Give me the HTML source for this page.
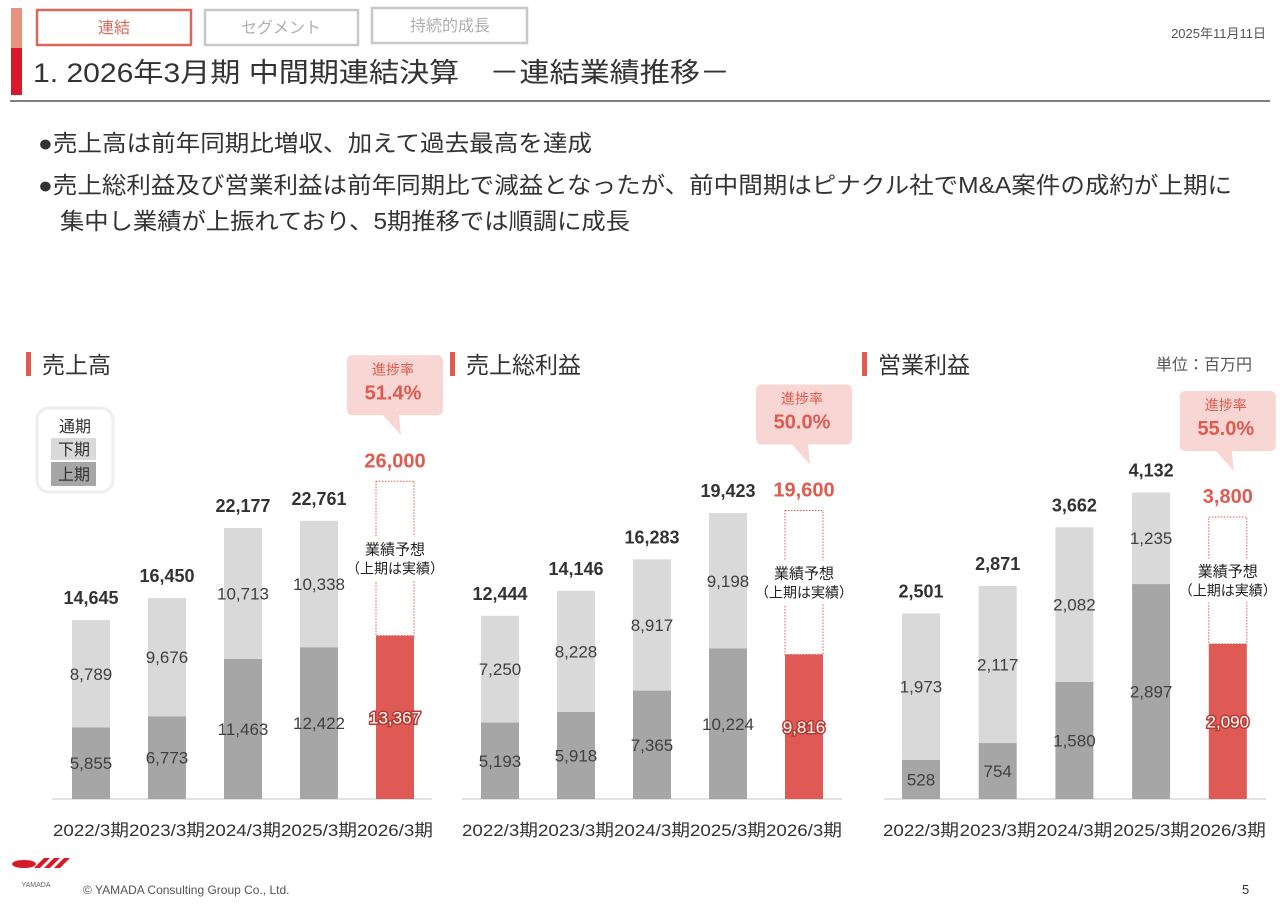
<!DOCTYPE html>
<html><head><meta charset="utf-8">
<style>
html,body{margin:0;padding:0;background:#fff;}
body{width:1280px;height:904px;overflow:hidden;font-family:"Liberation Sans","Noto Sans CJK JP",sans-serif;}
</style></head>
<body>
<svg id="s" width="1280" height="904" xmlns="http://www.w3.org/2000/svg" font-family="'Liberation Sans','Noto Sans CJK JP',sans-serif">
  <rect x="11" y="8" width="11" height="40" fill="#e8937f"/>
  <rect x="11" y="48" width="11" height="47" fill="#d9182a"/>
  <g><rect x="37" y="10" width="154" height="35" fill="#fff" stroke="#d9675a" stroke-width="2.5"/><text x="114" y="33" font-size="16" fill="#d9675a" text-anchor="middle">連結</text></g>
  <g><rect x="205" y="10" width="153" height="35" fill="#fff" stroke="#c8c8c8" stroke-width="2.5"/><text x="281" y="33" font-size="16" fill="#b0b0b0" text-anchor="middle">セグメント</text></g>
  <g><rect x="372" y="8" width="155" height="35" fill="#fff" stroke="#c8c8c8" stroke-width="2.5"/><text x="450" y="31" font-size="16" fill="#b0b0b0" text-anchor="middle">持続的成長</text></g>
  <text x="1266" y="38" font-size="13" fill="#555" text-anchor="end">2025年11月11日</text>
  <text x="33" y="82" font-size="27" fill="#333" textLength="697" lengthAdjust="spacingAndGlyphs">1. 2026年3月期 中間期連結決算　－連結業績推移－</text>
  <line x1="10" y1="101" x2="1270" y2="101" stroke="#555" stroke-width="1.5"/>
  <g font-size="23" fill="#333">
    <text x="38" y="151" textLength="554" lengthAdjust="spacingAndGlyphs">●売上高は前年同期比増収、加えて過去最高を達成</text>
    <text x="38" y="193" textLength="1194" lengthAdjust="spacingAndGlyphs">●売上総利益及び営業利益は前年同期比で減益となったが、前中間期はピナクル社でM&amp;A案件の成約が上期に</text>
    <text x="60" y="229" textLength="570" lengthAdjust="spacingAndGlyphs">集中し業績が上振れており、5期推移では順調に成長</text>
  </g>
  <text x="1252" y="370" font-size="16" fill="#555" text-anchor="end">単位：百万円</text>
  <g>
    <rect x="37" y="408" width="76" height="84" rx="12" fill="#fff" stroke="#eee" stroke-width="3"/>
    <text x="75" y="432" font-size="16" fill="#333" text-anchor="middle">通期</text>
    <rect x="51" y="438" width="45" height="22" fill="#d9d9d9"/><text x="74" y="455" font-size="16" fill="#333" text-anchor="middle">下期</text>
    <rect x="51" y="462" width="45" height="24" fill="#a6a6a6"/><text x="74" y="480" font-size="16" fill="#333" text-anchor="middle">上期</text>
  </g>
  <g id="charts"></g>
  <g>
    <ellipse cx="24" cy="864" rx="12" ry="4" fill="#d9182a"/>
    <path d="M34 868 L44 858 L50 858 L40 868Z M44 868 L54 858 L60 858 L50 868Z M54 868 L64 858 L70 858 L60 868Z" fill="#d9182a"/>
    <text x="36" y="887" font-size="7" fill="#666" text-anchor="middle">YAMADA</text>
  </g>
  <text x="83" y="894" font-size="12" fill="#555">© YAMADA Consulting Group Co., Ltd.</text>
  <text x="1242" y="894" font-size="13" fill="#333">5</text>
</svg>
<script>
const categories = ["2022/3期","2023/3期","2024/3期","2025/3期","2026/3期"];
const salesH1 = [5855,6773,11463,12422,13367];
const salesH2 = [8789,9676,10713,10338];
const salesTotal = [14645,16450,22177,22761,26000];
const grossH1 = [5193,5918,7365,10224,9816];
const grossH2 = [7250,8228,8917,9198];
const grossTotal = [12444,14146,16283,19423,19600];
const opH1 = [528,754,1580,2897,2090];
const opH2 = [1973,2117,2082,1235];
const opTotal = [2501,2871,3662,4132,3800];
const progress = ["51.4%","50.0%","55.0%"];
const titles = ["売上高","売上総利益","営業利益"];

const NS="http://www.w3.org/2000/svg";
const root=document.getElementById('charts');
function mk(tag,attrs,parent,txt){const e=document.createElementNS(NS,tag);for(const k in attrs)e.setAttribute(k,attrs[k]);if(txt!==undefined)e.textContent=txt;parent.appendChild(e);return e;}
const fmt=v=>v.toLocaleString('en-US');
const cfgs=[
 {x0:52,x1:432,first:91,step:76,scale:0.01222,h1:salesH1,h2:salesH2,tot:salesTotal,tx:26},
 {x0:462,x1:842,first:500,step:76,scale:0.01472,h1:grossH1,h2:grossH2,tot:grossTotal,tx:450},
 {x0:884,x1:1266,first:921,step:76.7,scale:0.0742,h1:opH1,h2:opH2,tot:opTotal,tx:862}
];
const base=799,bw=38;
cfgs.forEach((c,ci)=>{
  const g=mk('g',{},root);
  
  
  const tb=mk('rect',{x:c.tx,y:352,width:5,height:24,fill:'#e05a4f'},g);
  
  
  const tt=mk('text',{x:c.tx+16,y:373,'font-size':23,fill:'#333'},g,titles[ci]);
  
  
  const ax=mk('line',{x1:c.x0,x2:c.x1,y1:base,y2:base,stroke:'#d9d9d9','stroke-width':1.5},g);
  
  
  const Y=v=>v*c.scale;
  categories.forEach((cat,i)=>{
    const cx=c.first+i*c.step;
    const lab=mk('text',{x:cx-38,y:836,'font-size':17,fill:'#333',textLength:76,lengthAdjust:'spacingAndGlyphs'},g,cat);
    
    
    const h1=Y(c.h1[i]);
    const isF=i===4;
    const r1=mk('rect',{x:cx-bw/2,y:base-h1,width:bw,height:h1,fill:isF?'#e05a55':'#a6a6a6'},g);
    
    
    const t1=mk('text',{x:cx,y:base-h1/2+6,'font-size':17,'text-anchor':'middle',fill:isF?'#fff':'#404040'},g,fmt(c.h1[i]));
    if(isF){t1.setAttribute('stroke','#b83a32');t1.setAttribute('stroke-width','3');t1.setAttribute('paint-order','stroke');}
    
    
    const ht=Y(c.tot[i]);
    if(!isF){
      const h2=Y(c.h2[i]);
      const r2=mk('rect',{x:cx-bw/2,y:base-h1-h2,width:bw,height:h2,fill:'#d9d9d9'},g);
      
      
      const t2=mk('text',{x:cx,y:base-h1-h2/2+6,'font-size':17,'text-anchor':'middle',fill:'#404040'},g,fmt(c.h2[i]));
      
      
      const tl=mk('text',{x:cx,y:base-ht-16,'font-size':18,'font-weight':'bold','text-anchor':'middle',fill:'#333'},g,fmt(c.tot[i]));
      
      
    } else {
      const fr=mk('rect',{x:cx-bw/2,y:base-ht,width:bw,height:ht-h1,fill:'none',stroke:'#e05a55','stroke-width':1,'stroke-dasharray':'1.5,1.5'},g);
      
      
      const my=base-ht+(ht-h1)/2;
      const fb=mk('rect',{x:cx-44,y:my-22,width:88,height:44,fill:'#fff'},g);
      
      
      const f1=mk('text',{x:cx,y:my-4,'font-size':15,'text-anchor':'middle',fill:'#222'},g,'業績予想');
      
      
      const f2=mk('text',{x:cx,y:my+15,'font-size':14,'text-anchor':'middle',fill:'#222'},g,'（上期は実績）');
      
      
      const tl=mk('text',{x:cx,y:base-ht-14,'font-size':20,'font-weight':'bold','text-anchor':'middle',fill:'#e05a4f'},g,fmt(c.tot[i]));
      
      
      const by=base-ht-126;
      const bx=cx-22;
      const bub=mk('path',{d:`M${bx-26} ${by+6} q0 -6 6 -6 h84 q6 0 6 6 v48 q0 6 -6 6 h-38 l2 20 l-18 -20 h-30 q-6 0 -6 -6z`,fill:'#f7d6d3'},g);
      
      
      const p1=mk('text',{x:bx+20,y:by+19,'font-size':14,'text-anchor':'middle',fill:'#e05a4f'},g,'進捗率');
      
      
      const p2=mk('text',{x:bx+20,y:by+44,'font-size':20,'font-weight':'bold','text-anchor':'middle',fill:'#e05a4f'},g,progress[ci]);
      
      
    }
  });
});
</script>
</body></html>
